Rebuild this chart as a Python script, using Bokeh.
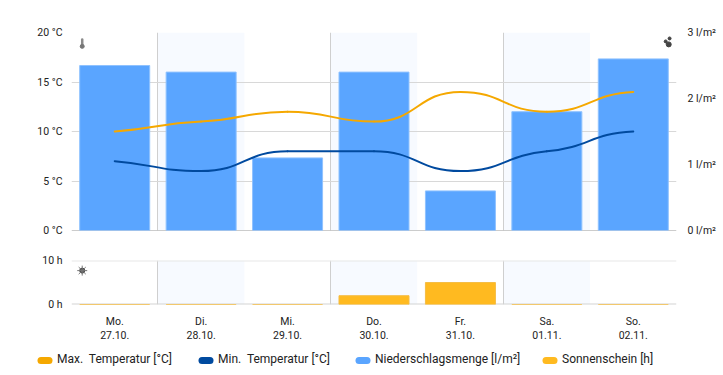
from bokeh.plotting import figure
from bokeh.layouts import column, row
from bokeh.models import (FixedTicker, LinearAxis, Range1d, Span, Legend, LegendItem, ColumnDataSource)
from bokeh.embed import file_html
from bokeh.resources import INLINE

days = ["Mo.", "Di.", "Mi.", "Do.", "Fr.", "Sa.", "So."]
dates = ["27.10.", "28.10.", "29.10.", "30.10.", "31.10.", "01.11.", "02.11."]
temp_max = [10, 11, 12, 11, 14, 12, 14]
temp_min = [7, 6, 8, 8, 6, 8, 10]
rain = [2.5, 2.4, 1.1, 2.4, 0.6, 1.8, 2.6]
sun = [0, 0, 0, 2, 5, 0, 0]
shaded = [1, 3, 5]

FONT = "Roboto"
TICK_SIZE = "10.5px"
C_MAX, C_MIN, C_RAIN, C_SUN = "#f5a800", "#004a9f", "#5aa5ff", "#ffba20"
xs = list(range(len(days)))
nan = float("nan")


def tangents(y):
    m = [0.0] * len(y)
    m[0] = 0.7 * (y[1] - y[0])
    m[-1] = 0.2 * (y[-1] - y[-2])
    for i in range(1, len(y) - 1):
        a, b = y[i] - y[i - 1], y[i + 1] - y[i]
        m[i] = 0.2 * (a + b) if a * b > 0 else 0.0
    return m


def curve(p, y, color):
    m = tangents(y)
    n = len(y) - 1
    src = ColumnDataSource(dict(
        x0=xs[:-1], y0=y[:-1], x1=xs[1:], y1=y[1:],
        cx0=[x + 0.5 for x in xs[:-1]], cy0=[y[i] + m[i] * 0.5 for i in range(n)],
        cx1=[x - 0.5 for x in xs[1:]], cy1=[y[i + 1] - m[i + 1] * 0.5 for i in range(n)],
    ))
    p.bezier("x0", "y0", "x1", "y1", "cx0", "cy0", "cx1", "cy1", source=src,
             line_color=color, line_width=2, line_cap="round")


def base(height, y_range, frame_height, top, bottom):
    p = figure(width=720, height=height, output_backend="svg", toolbar_location=None,
               x_range=Range1d(-0.5, 6.5), y_range=y_range, frame_width=605, frame_height=frame_height,
               min_border_left=71, min_border_right=44, min_border_top=top, min_border_bottom=bottom,
               outline_line_color=None, background_fill_color="#ffffff", border_fill_color="#ffffff")
    p.xgrid.ticker = FixedTicker(ticks=[0.5, 2.5, 4.5])
    p.xgrid.grid_line_color = "#cfcfcf"
    p.yaxis.axis_line_color = None
    p.yaxis.major_tick_line_color = None
    p.yaxis.major_tick_out = 0
    p.yaxis.minor_tick_line_color = None
    p.yaxis.major_label_text_font = FONT
    p.yaxis.major_label_text_font_size = TICK_SIZE
    p.yaxis.major_label_text_color = "#222222"
    p.yaxis.major_label_standoff = 9
    return p


# upper chart
top = base(238, Range1d(0, 20), 198, 32, 8)
top.xaxis.visible = False
top.ygrid.ticker = FixedTicker(ticks=[5, 10, 15, 20])
top.ygrid.grid_line_color = "#d8d8d8"
top.yaxis.ticker = FixedTicker(ticks=[0, 5, 10, 15, 20])
top.yaxis.major_label_overrides = {v: f"{v} °C" for v in [0, 5, 10, 15, 20]}
top.extra_y_ranges = {"rain": Range1d(0, 3)}
right = LinearAxis(y_range_name="rain", ticker=FixedTicker(ticks=[0, 1, 2, 3]),
                   major_label_overrides={v: f"{v} l/m²" for v in [0, 1, 2, 3]},
                   axis_line_color=None, major_tick_line_color=None, minor_tick_line_color=None,
                   major_tick_out=0,
                   major_label_text_font=FONT, major_label_text_font_size=TICK_SIZE,
                   major_label_text_color="#222222", major_label_standoff=11)
top.add_layout(right, "right")
band = top.vbar(x=shaded, width=1, bottom=0, top=20, fill_color="#f7faff", line_color=None)
band.level = "image"
top.add_layout(Span(location=0, dimension="width", line_color="#999999", line_width=1, level="underlay"))
top.vbar(x=xs, width=0.81, bottom=0, top=rain, y_range_name="rain",
         fill_color=C_RAIN, line_color="#8fc2ff", line_width=1)
curve(top, temp_max, C_MAX)
curve(top, temp_min, C_MIN)
# icons
top.line(x=[-0.376, -0.376], y=[18.8, 19.3], line_color="#8a8a8a", line_width=2.5, line_cap="round")
top.scatter(x=[-0.376], y=[18.6], size=4, color="#777777")
top.scatter(x=[6.375, 6.42, 6.41], y=[19.1, 19.4, 18.8], size=[3, 3, 5], color="#444444")

# lower chart
bot = base(106, Range1d(0, 10), 44, 22, 40)
bot.ygrid.visible = False
bot.yaxis.ticker = FixedTicker(ticks=[0, 10])
bot.yaxis.major_label_overrides = {0: "0 h", 10: "10 h"}
band2 = bot.vbar(x=shaded, width=1, bottom=0, top=10, fill_color="#f7faff", line_color=None)
band2.level = "image"
bot.add_layout(Span(location=10, dimension="width", line_color="#e8e8e8", line_width=2, level="underlay"))
bot.add_layout(Span(location=0, dimension="width", line_color="#d4d4d4", line_width=2, level="underlay"))
bot.vbar(x=xs, width=0.81, bottom=0, top=sun, fill_color=C_SUN, line_color="#f5bd45", line_width=1)
bot.scatter(x=[-0.376], y=[7.7], size=5, color="#444444")
bot.scatter(x=[-0.376], y=[7.7], size=10, marker="asterisk", line_color="#777777", line_width=1, fill_color=None)

bot.xaxis.ticker = FixedTicker(ticks=xs)
bot.xaxis.major_label_overrides = dict(zip(xs, days))
date_axis = LinearAxis(ticker=FixedTicker(ticks=xs), major_label_overrides=dict(zip(xs, dates)))
bot.add_layout(date_axis, "below")
for ax, st in ((bot.xaxis[0], 10), (date_axis, 0)):
    ax.axis_line_color = None
    ax.major_tick_line_color = None
    ax.major_tick_out = 0
    ax.minor_tick_line_color = None
    ax.major_label_text_font = FONT
    ax.major_label_text_font_size = TICK_SIZE
    ax.major_label_text_color = "#222222"
    ax.major_label_standoff = st

# legend strip: pixel-scaled ranges, round-capped keys under the legend labels
strip = figure(width=720, height=28, output_backend="svg", toolbar_location=None,
               x_range=Range1d(0, 720), y_range=Range1d(0, 28), min_border=0,
               outline_line_color=None, border_fill_color="#ffffff")
strip.axis.visible = False
strip.grid.visible = False
legend_names = ["Max.  Temperatur [°C]", "Min.  Temperatur [°C]", "Niederschlagsmenge [l/m²]", "Sonnenschein [h]"]
legend_colors = [C_MAX, C_MIN, C_RAIN, C_SUN]
legend_left = [37, 198, 355, 542]
for name, color, left in zip(legend_names, legend_colors, legend_left):
    strip.line(x=[left + 3.5, left + 11.5], y=[12, 12], line_color=color, line_width=7, line_cap="round")
    r = strip.line(x=[nan, nan], y=[nan, nan], line_color=color, line_alpha=0, line_width=7)
    lg = Legend(items=[LegendItem(label=name, renderers=[r])], location=(left, 6),
                border_line_color=None, background_fill_alpha=0, margin=0, padding=0,
                glyph_width=15, glyph_height=14, label_standoff=5, label_height=14,
                label_text_font=FONT, label_text_font_size="12px", label_text_color="#222222")
    strip.add_layout(lg, "center")

layout = column(top, bot, row(strip), spacing=0)
open("out.html", "w").write(file_html(layout, INLINE))
